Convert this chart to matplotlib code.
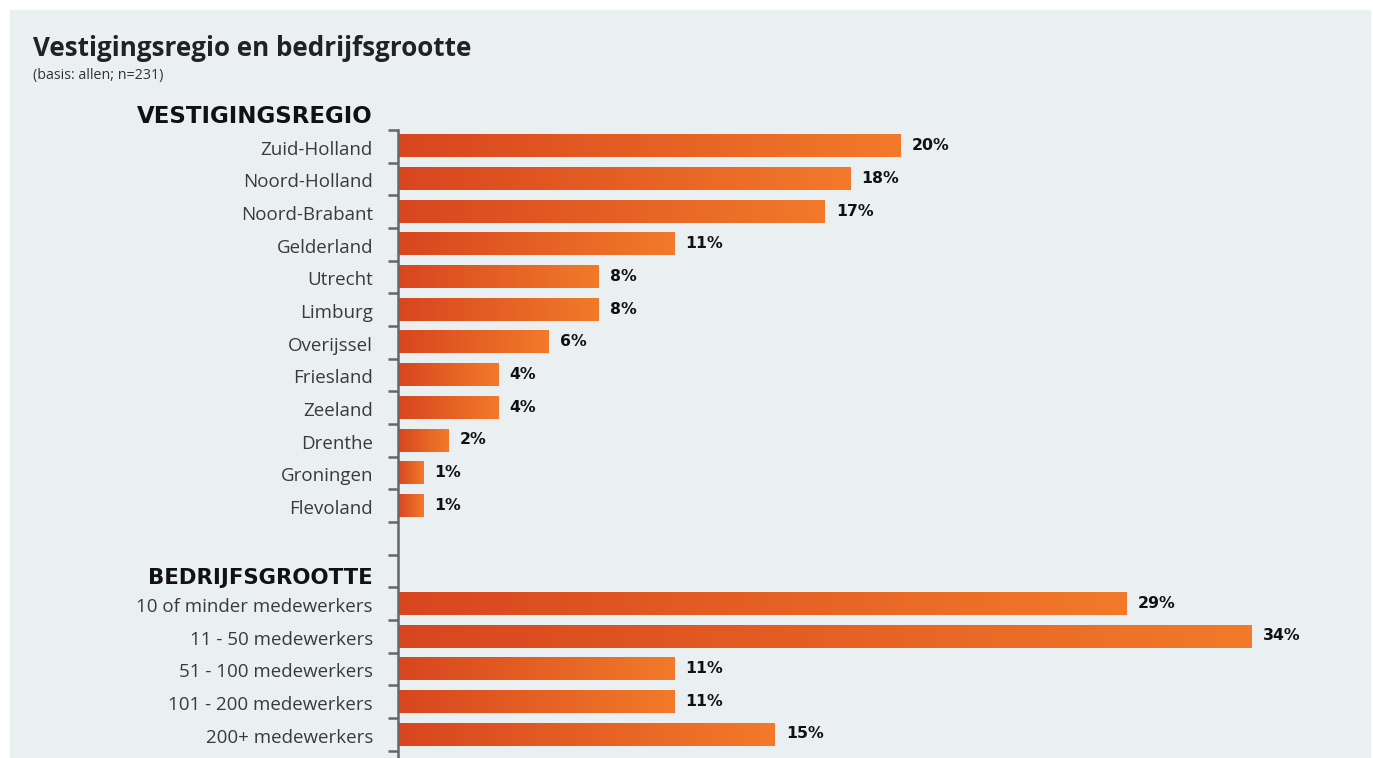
import matplotlib.pyplot as plt
import numpy as np
from matplotlib.colors import LinearSegmentedColormap
from matplotlib.patches import Rectangle

regions = ['Zuid-Holland', 'Noord-Holland', 'Noord-Brabant', 'Gelderland', 'Utrecht',
           'Limburg', 'Overijssel', 'Friesland', 'Zeeland', 'Drenthe', 'Groningen', 'Flevoland']
region_pct = [20, 18, 17, 11, 8, 8, 6, 4, 4, 2, 1, 1]

sizes = ['10 of minder medewerkers', '11 - 50 medewerkers', '51 - 100 medewerkers',
         '101 - 200 medewerkers', '200+ medewerkers']
size_pct = [29, 34, 11, 11, 15]

plt.rcParams['font.family'] = ['Open Sans', 'DejaVu Sans']
wide = ['DejaVu Sans']

fig = plt.figure(figsize=(13.73, 7.58), dpi=100)
fig.patches.append(Rectangle((10 / 1373, 0), 1360 / 1373, 748 / 758,
                             transform=fig.transFigure, color='#EAEFF2', zorder=-10))

ax = fig.add_axes([398 / 1373, 0, 972 / 1373, 628 / 758])
ax.set_facecolor('none')
ax.set_zorder(5)

# rows: 12 regions, blank, header, 5 sizes
labels = regions + ['', ''] + sizes
values = region_pct + [None, None] + size_pct
ypos = list(range(len(labels)))

cmap = LinearSegmentedColormap.from_list('bar', ['#D8461F', '#F27A2A'])
grad = np.linspace(0, 1, 256).reshape(1, -1)
bar_h = 0.68

for y, v in zip(ypos, values):
    if v is None:
        continue
    ax.imshow(grad, cmap=cmap, aspect='auto', interpolation='bilinear',
              extent=(0, v, y + bar_h / 2, y - bar_h / 2), zorder=2)
    ax.text(v + 0.45, y - 0.02, f'{v}%', va='center', ha='left',
            fontsize=11.3, fontweight='bold', color='#111111', family=wide)
    ax.text(-1.0, y + 0.1, labels[y], va='center', ha='right',
            fontsize=13.5, fontweight='normal', color='#3a3a3a')

ax.set_xlim(0, 38.7)
ax.set_ylim(18.72, -0.5)

for s in ['top', 'right', 'bottom']:
    ax.spines[s].set_visible(False)
ax.spines['left'].set_color('#666666')
ax.spines['left'].set_linewidth(1.8)
ax.set_xticks([])
ax.set_yticks(np.arange(-0.5, 18.6, 1.0))
ax.set_yticklabels([])
ax.tick_params(axis='y', length=7, width=1.8, color='#666666', direction='out')

ax.text(-1.0, -0.92, 'VESTIGINGSREGIO', ha='right', va='center',
        fontsize=16.5, fontweight='bold', color='#111111', family=wide)
ax.text(-1.0, 13.2, 'BEDRIJFSGROOTTE', ha='right', va='center',
        fontsize=15.3, fontweight='bold', color='#111111', family=wide)

fig.text(33 / 1373, 1 - 48 / 758, 'Vestigingsregio en bedrijfsgrootte', ha='left', va='center',
         fontsize=18.7, fontweight='bold', color='#222222')
fig.text(33 / 1373, 1 - 76 / 758, '(basis: allen; n=231)', ha='left', va='center',
         fontsize=10.3, color='#333333')

fig.savefig('out.png', dpi=100)
